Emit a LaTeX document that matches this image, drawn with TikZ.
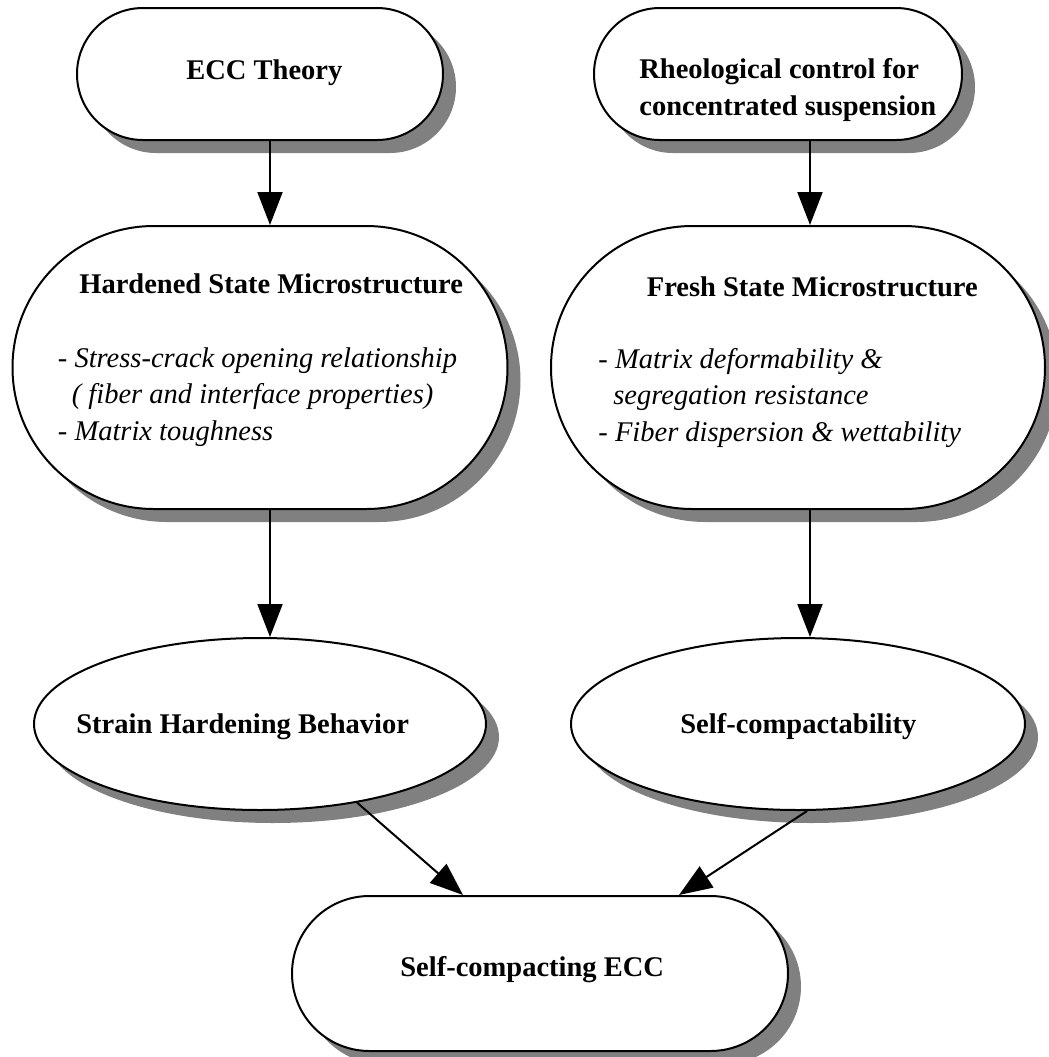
\documentclass[tikz,border=0pt]{standalone}
\usepackage{fontspec}
\setmainfont{Liberation Serif}
\usetikzlibrary{positioning,arrows.meta,shapes.misc,shapes.geometric,shadows}

\begin{document}
\begin{tikzpicture}[x=0.5pt,y=-0.5pt,
gshadow/.style={drop shadow={shadow xshift=6.5pt,shadow yshift=-6.5pt,fill=black!50,opacity=1}},
pill/.style={draw,line width=1pt,fill=white,rounded rectangle,inner sep=0pt,gshadow},
oval/.style={draw,line width=1pt,fill=white,ellipse,inner sep=0pt,gshadow},
head/.style={font=\fontsize{14.25}{18.2}\selectfont\bfseries,inner sep=0pt,anchor=base west,align=left},
list/.style={font=\fontsize{14.25}{18.2}\selectfont\itshape,inner sep=0pt,anchor=base west,align=left},
arrow/.style={-{Triangle[length=16.5pt,width=12.5pt]},line width=1pt}]
\useasboundingbox (0,0) rectangle (1049,1057);
% boxes
\node[pill,minimum width=183pt,minimum height=66pt](ecc) at (260,74){};
\node[pill,minimum width=184pt,minimum height=66pt](rheo) at (778,74){};
\node[pill,minimum width=247.5pt,minimum height=141.5pt,below=42pt of ecc](hard){};
\node[pill,minimum width=247pt,minimum height=141.5pt,below=42pt of rheo,xshift=10pt](fresh){};
\node[oval,minimum width=226pt,minimum height=86pt,below=63.5pt of hard](strain){};
\node[oval,minimum width=227pt,minimum height=86pt,below=63.5pt of fresh](selfc){};
\node[pill,minimum width=248pt,minimum height=77.5pt](final) at (540,973.5){};
% texts (multi-line: placed at last baseline)
\node[head](eccT) at (186,79){ECC Theory};
\node[head](rheoT) at (639,115){Rheological control for\\concentrated suspension};
\node[head](hardT) at (79,293){Hardened State Microstructure};
\node[list](hardL) at (57.5,440){- Stress-crack opening relationship\\\hspace*{7pt}( fiber and interface properties)\\- Matrix toughness};
\node[head](freshT) at (646.5,296){Fresh State Microstructure};
\node[list](freshL) at (598,441){- Matrix deformability \&\\\hspace*{7.5pt}segregation resistance\\- Fiber dispersion \& wettability};
\node[head](strainT) at (76,733.5){Strain Hardening Behavior};
\node[head](selfcT) at (680,733.5){Self-compactability};
\node[head](finalT) at (400,976){Self-compacting ECC};
% arrows
\coordinate (colL) at (270,0);\coordinate (colR) at (810,0);
\draw[arrow](ecc.south -| colL)--(hard.north -| colL);\draw[arrow](rheo.south -| colR)--(fresh.north -| colR);
\draw[arrow](hard.south -| colL)--(strain.north -| colL);\draw[arrow](fresh.south -| colR)--(selfc.north -| colR);
\draw[arrow](strain.-39)--([xshift=-38.5pt]final.north);\draw[arrow](selfc.-84)--([xshift=69.5pt]final.north);
\end{tikzpicture}
\end{document}
